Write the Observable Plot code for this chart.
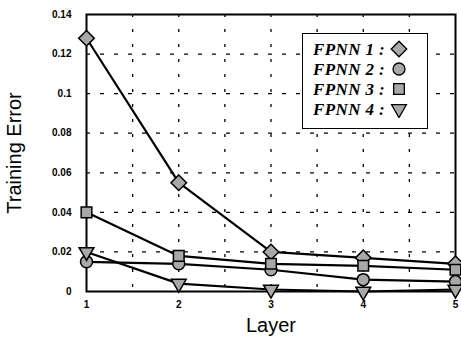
<!DOCTYPE html>
<html>
<head>
<meta charset="utf-8">
<script src="https://cdn.jsdelivr.net/npm/d3@7"></script>
<script src="https://cdn.jsdelivr.net/npm/@observablehq/plot@0.6"></script>
<style>
  html, body { margin: 0; padding: 0; background: #fff; }
  #wrap { position: relative; width: 461px; height: 339px; }
  #legend {
    position: absolute; left: 302px; top: 33px; width: 124px; height: 94px;
    border: 1.5px solid #000; background: #fff; box-sizing: content-box;
    font-family: "Liberation Serif", "Times New Roman", serif;
    font-weight: bold; font-style: italic; font-size: 17px; letter-spacing: 0.4px;
  }
  #legend .row { position: absolute; left: 10px; height: 20px; line-height: 20px; white-space: nowrap; }
  #legend svg { vertical-align: middle; position: relative; top: -2px; }
</style>
</head>
<body>
<div id="wrap"><div id="legend"></div></div>
<script>
const layers = [1, 2, 3, 4, 5];
const seriesNames = ["FPNN 1", "FPNN 2", "FPNN 3", "FPNN 4"];
const fpnn1 = [0.128, 0.055, 0.020, 0.017, 0.014];
const fpnn2 = [0.015, 0.014, 0.011, 0.006, 0.005];
const fpnn3 = [0.040, 0.018, 0.014, 0.013, 0.011];
const fpnn4 = [0.020, 0.004, 0.001, 0.000, 0.001];
const yTicks = [0, 0.02, 0.04, 0.06, 0.08, 0.1, 0.12, 0.14];
const yTickLabels = ["0", "0.02", "0.04", "0.06", "0.08", "0.1", "0.12", "0.14"];
const xGrid = [1.5, 2, 2.5, 3, 3.5, 4, 4.5];
const yGrid = [0.02, 0.04, 0.06, 0.08, 0.1, 0.12];
const symbols = ["diamond2", "circle", "square", "triangle"];
const symbolR = [7, 6, 6, 5.5];

const seriesValues = [fpnn1, fpnn2, fpnn3, fpnn4];
const data = [];
seriesNames.forEach((s, i) => layers.forEach((l, j) => data.push({series: s, layer: l, value: seriesValues[i][j], r: symbolR[i]})));

const chart = Plot.plot({
  width: 461, height: 339,
  marginLeft: 86, marginRight: 6, marginTop: 14, marginBottom: 48,
  style: {fontFamily: "'Liberation Sans', Arial, sans-serif", background: "#fff", color: "#000"},
  x: {domain: [1, 5]},
  y: {domain: [0, 0.14]},
  r: {type: "identity"},
  symbol: {domain: seriesNames, range: symbols},
  marks: [
    Plot.gridY(yGrid, {stroke: "#000", strokeOpacity: 1, strokeWidth: 1.3, strokeDasharray: "4,10"}),
    Plot.gridX(xGrid, {stroke: "#000", strokeOpacity: 1, strokeWidth: 1.3, strokeDasharray: "3,12"}),
    Plot.axisX(layers, {tickSize: 0, tickPadding: 9, fontSize: 10, fontWeight: "bold", tickFormat: d => String(d),
      label: "Layer", labelAnchor: "center", labelArrow: "none", labelOffset: 40}),
    Plot.axisY(yTicks, {tickSize: 0, tickPadding: 15, fontSize: 10, fontWeight: "bold",
      tickFormat: (d, i) => yTickLabels[i], label: "Training Error", labelAnchor: "center", labelArrow: "none", labelOffset: 80}),
    Plot.frame({stroke: "#000", strokeWidth: 2}),
    Plot.line(data, {x: "layer", y: "value", z: "series", stroke: "#000", strokeWidth: 2.2}),
    Plot.dot(data, {x: "layer", y: "value", symbol: "series", r: "r",
      rotate: d => d.series === "FPNN 4" ? 180 : 0,
      fill: "#a8a8a8", stroke: "#000", strokeWidth: 1.5})
  ]
});
// axis titles: larger, regular weight
chart.querySelectorAll("g[aria-label='x-axis label'] text, g[aria-label='y-axis label'] text").forEach(t => {
  t.setAttribute("font-size", 20);
  t.setAttribute("font-weight", "normal");
  t.style.fontWeight = "normal";
});
chart.querySelectorAll("g[aria-label='x-axis label'], g[aria-label='y-axis label']").forEach(g => {
  g.setAttribute("font-weight", "normal");
});
document.getElementById("wrap").prepend(chart);

// Legend
const legend = document.getElementById("legend");
const symGen = {diamond2: d3.symbolDiamond2, circle: d3.symbolCircle, square: d3.symbolSquare, triangle: d3.symbolTriangle};
seriesNames.forEach((s, i) => {
  const row = document.createElement("div");
  row.className = "row";
  row.style.top = (6 + i * 20) + "px";
  const p = d3.symbol(symGen[symbols[i]], Math.PI * symbolR[i] * symbolR[i])();
  const rot = symbols[i] === "triangle" ? " rotate(180)" : "";
  row.innerHTML = s + " : <svg width='18' height='18'><path d='" + p + "' transform='translate(9,9)" + rot + "' fill='#a8a8a8' stroke='#000' stroke-width='1.3'/></svg>";
  legend.appendChild(row);
});
</script>
</body>
</html>
